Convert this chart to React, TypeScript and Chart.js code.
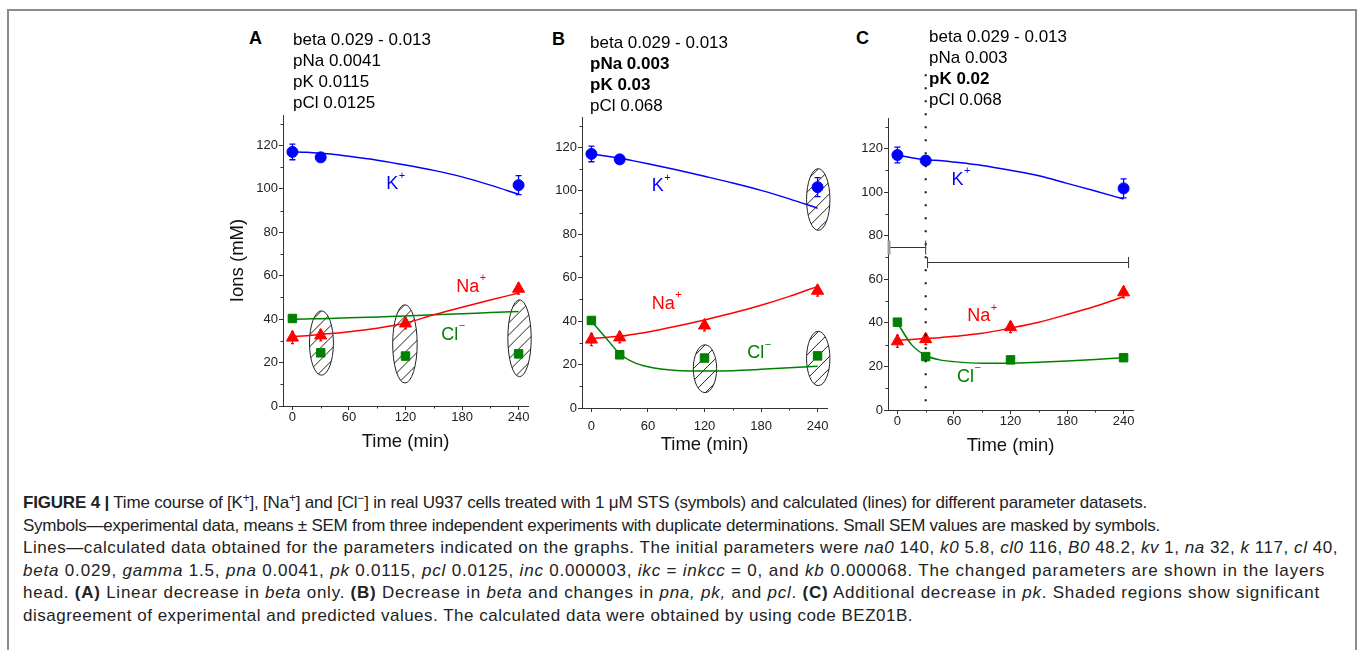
import React, { useEffect, useLayoutEffect, useRef } from 'react';
import { Chart, registerables } from 'chart.js';

Chart.register(...registerables);

const FONT = "'Liberation Sans', Arial, Helvetica, sans-serif";
const BLUE = '#0000ff';
const RED = '#ff0000';
const GREEN = '#008000';
const AXIS = '#333333';

// ---- experimental data (symbols), same in all panels ----
const expTimes = [0, 30, 120, 240];
const kTimes = [0, 30, 240];
const kExp = [117, 114.5, 101.7];
const kErr = [3.6, 1.5, 4.4];
const naExp = [31.5, 32.5, 38, 54];
const naErr = [2.8, 2.5, 2.5, 2.5];
const clExp = [40.3, 24.5, 23, 24];
const clErr = [1, 1, 1, 1];

// ---- calculated data (lines) ----
const calcTimes = [0, 15, 30, 45, 60, 90, 120, 150, 180, 210, 240];
const kCalcA = [117, 116.8, 116.4, 115.8, 115, 113.2, 111, 108.5, 105.5, 101.7, 97.5];
const naCalcA = [32, 32.4, 33, 33.5, 34.2, 35.8, 38.2, 42, 45.5, 48.8, 52];
const clCalcA = [40, 40.1, 40.2, 40.4, 40.6, 41, 41.5, 42, 42.5, 43, 43.5];
const kCalcB = [117, 116, 115, 113.8, 112.5, 109.7, 106.7, 103.6, 100.2, 96.3, 92];
const naCalcB = [32, 32.5, 33, 34, 35, 37.6, 40.5, 43.7, 47.3, 51.4, 56];
const clCalcB = [40, 32.5, 25, 21, 19, 17.3, 17, 17.2, 17.8, 18.5, 19.2];
const kCalcC = [117, 115.8, 114.8, 114.5, 113.8, 112.2, 110, 107.5, 104, 100.5, 96.8];
const naCalcC = [32, 32.4, 32.8, 33.2, 33.8, 35.2, 37.6, 40.3, 43.8, 47.6, 52];
const clCalcC = [40, 30, 25, 23, 22.2, 21.5, 21.5, 21.9, 22.5, 23.2, 24];

// ---- axes ----
const xTicks = [0, 60, 120, 180, 240];
const xMinor = [30, 90, 150, 210];
const yTicks = [0, 20, 40, 60, 80, 100, 120];
const yMinor = [10, 30, 50, 70, 90, 110, 130];
const xRange = [-10, 250];
const yRange = [0, 134];

// ---- shaded (hatched) regions: centre time, centre value, half-width (min), half-height (mM) ----
const ellipsesA = [
  { t: 30.8, v: 29, rt: 12.7, rv: 14.8 },
  { t: 119.4, v: 28.6, rt: 13, rv: 18 },
  { t: 241, v: 31.2, rt: 12.4, rv: 17.7 },
];
const ellipsesB = [
  { t: 240.7, v: 96, rt: 12.4, rv: 14.2 },
  { t: 120.5, v: 18.1, rt: 12.4, rv: 11 },
  { t: 240.7, v: 22.8, rt: 12.4, rv: 12.5 },
];
const ellipsesC: any[] = [];

// ---- ion labels ----
const labelsA = [
  { ion: 'K', sup: '+', t: 99.5, v: 102, color: BLUE },
  { ion: 'Na', sup: '+', t: 173.8, v: 55, color: RED },
  { ion: 'Cl', sup: '\u2212', t: 157.9, v: 32.8, color: GREEN },
];
const labelsB = [
  { ion: 'K', sup: '+', t: 64, v: 102.1, color: BLUE },
  { ion: 'Na', sup: '+', t: 64, v: 48, color: RED },
  { ion: 'Cl', sup: '\u2212', t: 165.3, v: 25.2, color: GREEN },
];
const labelsC = [
  { ion: 'K', sup: '+', t: 57.3, v: 105.7, color: BLUE },
  { ion: 'Na', sup: '+', t: 74, v: 43, color: RED },
  { ion: 'Cl', sup: '\u2212', t: 63.3, v: 15.2, color: GREEN },
];

// ---- panel C extras ----
const markerTimeC = 30;
const markerSpanC = [4, 158];
const bracketsC = [
  { t0: -10, t1: 30, v: 75, cap0: 7, cap1: 7, thickStart: true },
  { t0: 32, t1: 245.3, v: 68, cap0: 5.5, cap1: 5.5, thickStart: false },
];

// ---- parameter texts ----
const paramsA: [string, boolean][] = [['beta 0.029 - 0.013', false], ['pNa 0.0041', false], ['pK 0.0115', false], ['pCl 0.0125', false]];
const paramsB: [string, boolean][] = [['beta 0.029 - 0.013', false], ['pNa 0.003', true], ['pK 0.03', true], ['pCl 0.068', false]];
const paramsC: [string, boolean][] = [['beta 0.029 - 0.013', false], ['pNa 0.003', false], ['pK 0.02', true], ['pCl 0.068', false]];

// right edge (px) of each caption line in the reference
const captionRightEdges = [1147, 1160, 1338, 1325, 1320, 913];

type PanelCfg = {
  key: string;
  left: number; top: number; w: number; h: number;
  yAxisW: number; xAxisH: number; padTop: number; padRight: number;
  xTickPad: number; xTitlePad: number; yTitle: boolean;
  kCalc: number[]; naCalc: number[]; clCalc: number[];
  ellipses: any[]; labels: any[]; extrasC: boolean;
};

const panels: PanelCfg[] = [
  { key: 'A', left: 220, top: 100, w: 330, h: 362, yAxisW: 63, xAxisH: 56, padTop: 15, padRight: 22, xTickPad: 0, xTitlePad: 9, yTitle: true,
    kCalc: kCalcA, naCalc: naCalcA, clCalc: clCalcA, ellipses: ellipsesA, labels: labelsA, extrasC: false },
  { key: 'B', left: 530, top: 100, w: 320, h: 362, yAxisW: 52, xAxisH: 54, padTop: 17, padRight: 23, xTickPad: 7, xTitlePad: 6, yTitle: false,
    kCalc: kCalcB, naCalc: naCalcB, clCalc: clCalcB, ellipses: ellipsesB, labels: labelsB, extrasC: false },
  { key: 'C', left: 835, top: 55, w: 310, h: 407, yAxisW: 53, xAxisH: 52, padTop: 63, padRight: 12, xTickPad: 0, xTitlePad: 5, yTitle: false,
    kCalc: kCalcC, naCalc: naCalcC, clCalc: clCalcC, ellipses: ellipsesC, labels: labelsC, extrasC: true },
];

const extrasPlugin = {
  id: 'panelExtras',
  beforeDatasetsDraw(chart: any, _args: any, opts: any) {
    const { ctx } = chart;
    const xs = chart.scales.x;
    const ys = chart.scales.y;
    (opts.ellipses || []).forEach((e: any) => {
      const cx = xs.getPixelForValue(e.t);
      const cy = ys.getPixelForValue(e.v);
      const rx = Math.abs(xs.getPixelForValue(e.t + e.rt) - cx);
      const ry = Math.abs(ys.getPixelForValue(e.v + e.rv) - cy);
      ctx.save();
      ctx.beginPath();
      ctx.ellipse(cx, cy, rx, ry, 0, 0, Math.PI * 2);
      ctx.save();
      ctx.clip();
      ctx.beginPath();
      const step = 12;
      for (let c = cx + cy - rx - ry - step; c <= cx + cy + rx + ry + step; c += step) {
        ctx.moveTo(c - (cy + ry), cy + ry);
        ctx.lineTo(c - (cy - ry), cy - ry);
      }
      ctx.strokeStyle = '#222';
      ctx.lineWidth = 1;
      ctx.stroke();
      ctx.restore();
      ctx.beginPath();
      ctx.ellipse(cx, cy, rx, ry, 0, 0, Math.PI * 2);
      ctx.strokeStyle = '#222';
      ctx.lineWidth = 1;
      ctx.stroke();
      ctx.restore();
    });
    chart.data.datasets.forEach((ds: any) => {
      if (!ds.errors) return;
      ctx.save();
      ctx.strokeStyle = ds.borderColor;
      ctx.lineWidth = 1.3;
      ctx.beginPath();
      const cap = ds.errorCap;
      ds.data.forEach((p: any, j: number) => {
        const e = ds.errors[j];
        const px = xs.getPixelForValue(p.x);
        const y1 = ys.getPixelForValue(p.y + e);
        const y2 = ys.getPixelForValue(p.y - e);
        ctx.moveTo(px, y1); ctx.lineTo(px, y2);
        ctx.moveTo(px - cap, y1); ctx.lineTo(px + cap, y1);
        ctx.moveTo(px - cap, y2); ctx.lineTo(px + cap, y2);
      });
      ctx.stroke();
      ctx.restore();
    });
  },
  afterDatasetsDraw(chart: any, _args: any, opts: any) {
    const { ctx } = chart;
    const xs = chart.scales.x;
    const ys = chart.scales.y;
    (opts.labels || []).forEach((l: any) => {
      const px = xs.getPixelForValue(l.t);
      const py = ys.getPixelForValue(l.v);
      ctx.save();
      ctx.fillStyle = l.color;
      ctx.textBaseline = 'middle';
      ctx.textAlign = 'left';
      ctx.font = `18px ${FONT}`;
      ctx.fillText(l.ion, px, py);
      const w = ctx.measureText(l.ion).width;
      ctx.font = `11px ${FONT}`;
      ctx.fillText(l.sup, px + w + 0.5, py - 8.5);
      ctx.restore();
    });
  },
  afterDraw(chart: any, _args: any, opts: any) {
    const { ctx, chartArea } = chart;
    const xs = chart.scales.x;
    const ys = chart.scales.y;
    ctx.save();
    ctx.strokeStyle = AXIS;
    ctx.lineWidth = 1;
    ctx.beginPath();
    xMinor.forEach((v) => {
      const px = Math.round(xs.getPixelForValue(v)) + 0.5;
      ctx.moveTo(px, chartArea.bottom);
      ctx.lineTo(px, chartArea.bottom + 2.5);
    });
    yMinor.forEach((v) => {
      const py = Math.round(ys.getPixelForValue(v)) + 0.5;
      ctx.moveTo(chartArea.left, py);
      ctx.lineTo(chartArea.left - 2.5, py);
    });
    ctx.stroke();
    ctx.restore();

    if (opts.extrasC) {
      ctx.save();
      const mx = xs.getPixelForValue(markerTimeC);
      ctx.strokeStyle = '#111';
      ctx.lineWidth = 2;
      ctx.setLineDash([2, 11]);
      ctx.beginPath();
      ctx.moveTo(mx, ys.getPixelForValue(markerSpanC[0]));
      ctx.lineTo(mx, ys.getPixelForValue(markerSpanC[1]));
      ctx.stroke();
      ctx.restore();
      bracketsC.forEach((b) => {
        const x0 = xs.getPixelForValue(b.t0);
        const x1 = xs.getPixelForValue(b.t1);
        const py = Math.round(ys.getPixelForValue(b.v)) + 0.5;
        ctx.save();
        ctx.strokeStyle = '#333';
        ctx.lineWidth = 1;
        ctx.beginPath();
        ctx.moveTo(x0, py); ctx.lineTo(x1, py);
        ctx.moveTo(x1, py - b.cap1); ctx.lineTo(x1, py + b.cap1);
        if (!b.thickStart) { ctx.moveTo(x0, py - b.cap0); ctx.lineTo(x0, py + b.cap0); }
        ctx.stroke();
        if (b.thickStart) {
          ctx.strokeStyle = '#999';
          ctx.lineWidth = 3;
          ctx.beginPath();
          ctx.moveTo(x0 + 1, py - b.cap0); ctx.lineTo(x0 + 1, py + b.cap0);
          ctx.stroke();
        }
        ctx.restore();
      });
    }
  },
};

function toPts(xs: number[], ys: number[]) {
  return xs.map((x, i) => ({ x, y: ys[i] }));
}

function buildConfig(p: PanelCfg): any {
  const lineDs = (vals: number[], color: string) => ({
    data: toPts(calcTimes, vals),
    showLine: true,
    borderColor: color,
    backgroundColor: color,
    borderWidth: 1.5,
    pointRadius: 0,
    cubicInterpolationMode: 'monotone',
  });
  const symDs = (ts: number[], vals: number[], errs: number[], cap: number, style: string, color: string, r: number) => ({
    data: toPts(ts, vals),
    errors: errs,
    errorCap: cap,
    showLine: false,
    pointStyle: style,
    pointRadius: r,
    pointBackgroundColor: color,
    pointBorderColor: color,
    pointBorderWidth: 1,
    borderColor: color,
    backgroundColor: color,
  });
  const tickFont = { family: FONT, size: 13 };
  return {
    type: 'scatter',
    data: {
      datasets: [
        lineDs(p.kCalc, BLUE),
        lineDs(p.naCalc, RED),
        lineDs(p.clCalc, GREEN),
        symDs(kTimes, kExp, kErr, 3, 'circle', BLUE, 5.5),
        symDs(expTimes, naExp, naErr, 1.5, 'triangle', RED, 7),
        symDs(expTimes, clExp, clErr, 2, 'rect', GREEN, 6),
      ],
    },
    options: {
      responsive: false,
      animation: false,
      devicePixelRatio: 1,
      events: [],
      layout: { padding: { top: p.padTop, right: p.padRight, left: 0, bottom: 0 } },
      plugins: {
        legend: { display: false },
        tooltip: { enabled: false },
        panelExtras: { ellipses: p.ellipses, labels: p.labels, extrasC: p.extrasC },
      },
      scales: {
        x: {
          type: 'linear',
          min: xRange[0],
          max: xRange[1],
          afterBuildTicks: (s: any) => { s.ticks = xTicks.map((v) => ({ value: v })); },
          afterFit: (s: any) => { s.height = p.xAxisH; },
          ticks: { font: tickFont, color: '#222', padding: p.xTickPad, maxRotation: 0, autoSkip: false },
          grid: { drawOnChartArea: false, drawTicks: true, tickLength: 4, color: AXIS },
          border: { display: true, color: AXIS, width: 1 },
          title: { display: true, text: 'Time (min)', font: { family: FONT, size: 18.5 }, color: '#111', padding: { top: 0, bottom: p.xTitlePad } },
        },
        y: {
          type: 'linear',
          min: yRange[0],
          max: yRange[1],
          afterBuildTicks: (s: any) => { s.ticks = yTicks.map((v) => ({ value: v })); },
          afterFit: (s: any) => { s.width = p.yAxisW; },
          ticks: { font: tickFont, color: '#222', padding: 1 },
          grid: { drawOnChartArea: false, drawTicks: true, tickLength: 4, color: AXIS },
          border: { display: true, color: AXIS, width: 1 },
          title: { display: p.yTitle, text: 'Ions (mM)', font: { family: FONT, size: 18.5 }, color: '#111', padding: { top: 7, bottom: 0 } },
        },
      },
    },
    plugins: [extrasPlugin],
  };
}

function PanelChart({ p }: { p: PanelCfg }) {
  const ref = useRef<HTMLCanvasElement>(null);
  useEffect(() => {
    const chart = new Chart(ref.current as HTMLCanvasElement, buildConfig(p));
    return () => chart.destroy();
  }, []);
  return (
    <canvas
      ref={ref}
      width={p.w}
      height={p.h}
      style={{ position: 'absolute', left: p.left, top: p.top, width: p.w, height: p.h }}
    />
  );
}

const letterPos = [
  { key: 'A', left: 249, top: 27 },
  { key: 'B', left: 552, top: 27.5 },
  { key: 'C', left: 856, top: 26.5 },
];
const paramPos = [
  { lines: paramsA, left: 293, top: 28.6 },
  { lines: paramsB, left: 590, top: 31.6 },
  { lines: paramsC, left: 929, top: 25.6 },
];

const supStyle: React.CSSProperties = { fontSize: '0.7em', position: 'relative', top: '-0.5em', verticalAlign: 'baseline', lineHeight: 0 };

const captionLines = [
  <><b>FIGURE 4 |</b> Time course of [K<span style={supStyle}>+</span>], [Na<span style={supStyle}>+</span>] and [Cl<span style={supStyle}>−</span>] in real U937 cells treated with 1 μM STS (symbols) and calculated (lines) for different parameter datasets.</>,
  <>Symbols—experimental data, means ± SEM from three independent experiments with duplicate determinations. Small SEM values are masked by symbols.</>,
  <>Lines—calculated data obtained for the parameters indicated on the graphs. The initial parameters were <i>na0</i> 140, <i>k0</i> 5.8, <i>cl0</i> 116, <i>B0</i> 48.2, <i>kv</i> 1, <i>na</i> 32, <i>k</i> 117, <i>cl</i> 40,</>,
  <><i>beta</i> 0.029, <i>gamma</i> 1.5, <i>pna</i> 0.0041, <i>pk</i> 0.0115, <i>pcl</i> 0.0125, <i>inc</i> 0.000003, <i>ikc</i> = <i>inkcc</i> = 0, and <i>kb</i> 0.000068. The changed parameters are shown in the layers</>,
  <>head. <b>(A)</b> Linear decrease in <i>beta</i> only. <b>(B)</b> Decrease in <i>beta</i> and changes in <i>pna, pk,</i> and <i>pcl</i>. <b>(C)</b> Additional decrease in <i>pk</i>. Shaded regions show significant</>,
  <>disagreement of experimental and predicted values. The calculated data were obtained by using code BEZ01B.</>,
];

export default function App() {
  const lineRefs = useRef<(HTMLSpanElement | null)[]>([]);
  useLayoutEffect(() => {
    const fit = () => {
      lineRefs.current.forEach((el, i) => {
        if (!el) return;
        el.style.letterSpacing = '0px';
        const right = el.getBoundingClientRect().right;
        const n = (el.textContent || '').length;
        const ls = (captionRightEdges[i] - right) / Math.max(1, n);
        el.style.letterSpacing = `${ls}px`;
      });
    };
    fit();
    if ((document as any).fonts && (document as any).fonts.ready) {
      (document as any).fonts.ready.then(fit);
    }
  }, []);
  return (
    <div style={{ position: 'absolute', left: 0, top: 0, width: 1360, height: 650, overflow: 'hidden', background: '#fff', fontFamily: FONT }}>
      <div style={{ position: 'absolute', left: 7, top: 9, width: 1350, height: 700, border: '2px solid #8c8c8c', boxSizing: 'border-box' }} />
      {panels.map((p) => <PanelChart key={p.key} p={p} />)}
      {letterPos.map((l) => (
        <div key={l.key} style={{ position: 'absolute', left: l.left, top: l.top, fontSize: 18, lineHeight: '22.5px', fontWeight: 'bold', color: '#000' }}>{l.key}</div>
      ))}
      {paramPos.map((pp, i) => (
        <div key={i} style={{ position: 'absolute', left: pp.left, top: pp.top, fontSize: 17, lineHeight: '21.3px', color: '#000', whiteSpace: 'nowrap' }}>
          {pp.lines.map(([t, bold], j) => (
            <div key={j} style={{ fontWeight: bold ? 'bold' : 'normal' }}>{t}</div>
          ))}
        </div>
      ))}
      <div style={{ position: 'absolute', left: 23, top: 492, fontSize: 17, lineHeight: '22.6px', color: '#222', whiteSpace: 'nowrap' }}>
        {captionLines.map((c, i) => (
          <div key={i}>
            <span ref={(el) => { lineRefs.current[i] = el; }} style={{ display: 'inline-block' }}>{c}</span>
          </div>
        ))}
      </div>
    </div>
  );
}
